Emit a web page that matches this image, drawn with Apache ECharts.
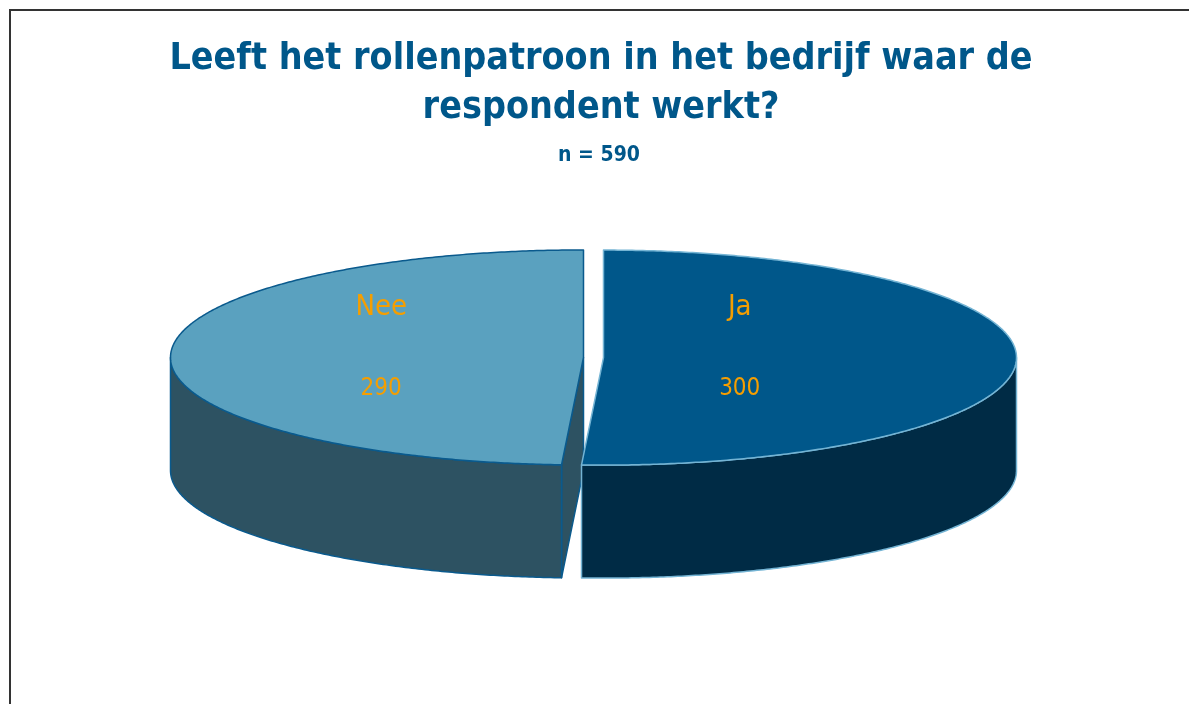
<!DOCTYPE html>
<html>
<head>
<meta charset="utf-8">
<script src="https://cdn.jsdelivr.net/npm/echarts@6/dist/echarts.min.js"></script>
<style>
  html, body { margin: 0; padding: 0; background: #ffffff; }
  #chart { width: 1189px; height: 704px; }
</style>
</head>
<body>
<div id="chart"></div>
<script>
// Survey answers
const categories = ['Ja', 'Nee'];
const counts = [300, 290];
const titleLines = ['Leeft het rollenpatroon in het bedrijf waar de', 'respondent werkt?'];
const sampleNote = 'n = 590';

// Slice colours (top face, side wall, outline)
const topColors = ['#00578A', '#5AA1BF'];
const sideColors = ['#002B45', '#2D5262'];
const edgeColors = ['#74B4D4', '#0A5A8D'];
const labelColor = '#F59E00';
const condensed = '"DejaVu Sans Condensed", "DejaVu Sans", sans-serif';

// Tilted pie geometry
const pie = { cx: 593.5, cy: 357.5, rx: 413, ry: 107.5, depth: 113, explode: 10 };
const labelReach = [0.33, 0.49];

const total = counts.reduce((a, b) => a + b, 0);

function renderSlice(params, api) {
  const i = params.dataIndex;
  let before = 0;
  for (let k = 0; k < i; k++) before += counts[k];
  const value = api.value(0);
  const a0 = before / total * 2 * Math.PI;
  const a1 = (before + value) / total * 2 * Math.PI;
  const mid = (a0 + a1) / 2;
  const ox = pie.explode * Math.sin(mid);
  const oy = -pie.explode * Math.cos(mid) * pie.ry / pie.rx;
  const D = pie.depth;
  const P = (t, dz) => [pie.cx + ox + pie.rx * Math.sin(t), pie.cy + oy - pie.ry * Math.cos(t) + (dz || 0)];
  const C = (dz) => [pie.cx + ox, pie.cy + oy + (dz || 0)];
  const arc = (s, e, dz) => {
    const n = Math.max(2, Math.ceil((e - s) / (Math.PI / 360)));
    const pts = [];
    for (let k = 0; k <= n; k++) pts.push(P(s + (e - s) * k / n, dz));
    return pts;
  };
  const edge = { stroke: edgeColors[i], lineWidth: 1.5, lineJoin: 'round' };
  const children = [];

  // radial cut faces that turn towards the viewer
  if (-Math.sin(a0) > 1e-6) {
    children.push({ type: 'polygon', z2: 1,
      shape: { points: [C(0), P(a0, 0), P(a0, D), C(D)] },
      style: Object.assign({ fill: sideColors[i] }, edge) });
  }
  if (Math.sin(a1) > 1e-6) {
    children.push({ type: 'polygon', z2: 1,
      shape: { points: [C(0), P(a1, 0), P(a1, D), C(D)] },
      style: Object.assign({ fill: sideColors[i] }, edge) });
  }

  // front part of the outer wall
  const ws = Math.max(a0, Math.PI / 2);
  const we = Math.min(a1, 1.5 * Math.PI);
  if (we > ws) {
    const pts = arc(ws, we, 0).concat(arc(ws, we, D).reverse());
    children.push({ type: 'polygon', z2: 2, shape: { points: pts },
      style: Object.assign({ fill: sideColors[i] }, edge) });
  }

  // top face
  children.push({ type: 'polygon', z2: 3,
    shape: { points: [C(0)].concat(arc(a0, a1, 0)) },
    style: Object.assign({ fill: topColors[i] }, edge) });

  // name and value labels
  const lx = pie.cx + ox + labelReach[i] * pie.rx * Math.sin(mid);
  const ly = pie.cy + oy;
  children.push({ type: 'text', z2: 4,
    style: { text: categories[i], x: lx, y: ly - 50, fill: labelColor,
      fontSize: 29, fontFamily: condensed, align: 'center', verticalAlign: 'middle' } });
  children.push({ type: 'text', z2: 4,
    style: { text: String(value), x: lx, y: ly + 31, fill: labelColor,
      fontSize: 24, fontFamily: condensed, align: 'center', verticalAlign: 'middle' } });

  return { type: 'group', children: children };
}

const chart = echarts.init(document.getElementById('chart'), null, { renderer: 'canvas' });
chart.setOption({
  backgroundColor: '#ffffff',
  animation: false,
  title: [
    {
      text: titleLines.join('\n'),
      left: 596, top: 30, textAlign: 'center',
      textStyle: { color: '#00578A', fontSize: 37.3, fontWeight: 'bold', fontFamily: condensed, lineHeight: 49 }
    },
    {
      text: sampleNote,
      left: 594, top: 140, textAlign: 'center',
      textStyle: { color: '#00578A', fontSize: 21, fontWeight: 'bold', fontFamily: condensed }
    }
  ],
  graphic: [
    { type: 'rect', silent: true,
      shape: { x: 10, y: 10, width: 1200, height: 720 },
      style: { fill: 'none', stroke: '#333333', lineWidth: 2 } }
  ],
  series: [{
    type: 'custom',
    coordinateSystem: 'none',
    renderItem: renderSlice,
    data: counts.map((v, i) => ({ name: categories[i], value: v }))
  }]
});
</script>
</body>
</html>
